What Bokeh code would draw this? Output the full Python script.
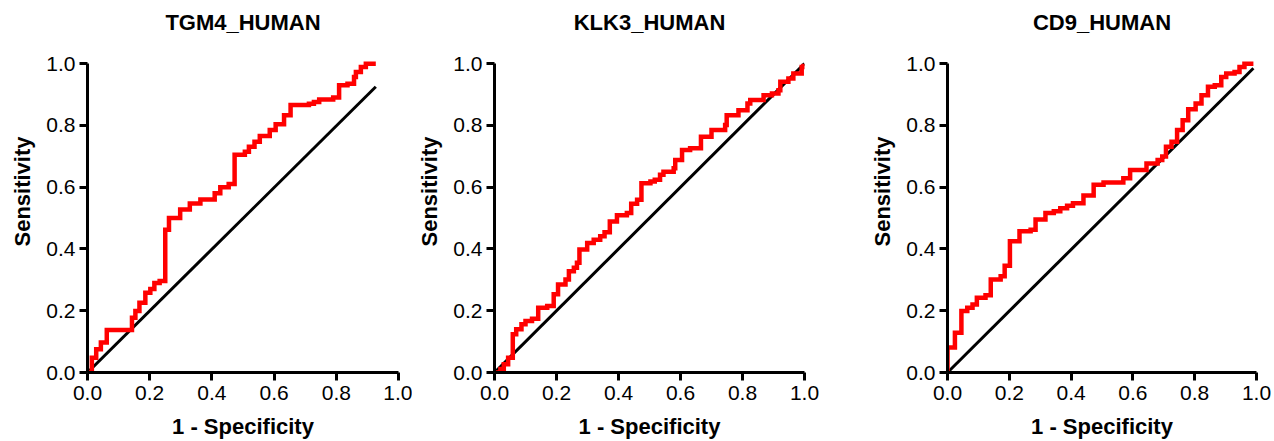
from bokeh.plotting import figure
from bokeh.layouts import row
from bokeh.models import Range1d, FixedTicker, PrintfTickFormatter
from bokeh.core.properties import value
from bokeh.embed import file_html
from bokeh.resources import INLINE

# ---- data ----
titles = ["TGM4_HUMAN", "KLK3_HUMAN", "CD9_HUMAN"]
x_label = "1 - Specificity"
y_label = "Sensitivity"
tick_values = [0.0, 0.2, 0.4, 0.6, 0.8, 1.0]

tgm4_fpr = [0.0, 0.014, 0.028, 0.043, 0.062, 0.143, 0.154, 0.167, 0.186, 0.202, 0.215, 0.232,
            0.250, 0.262, 0.298, 0.329, 0.363, 0.409, 0.427, 0.454, 0.473, 0.506, 0.519, 0.537,
            0.554, 0.586, 0.605, 0.632, 0.653, 0.712, 0.728, 0.745, 0.790, 0.809, 0.836, 0.857,
            0.863, 0.879, 0.895, 0.927]
tgm4_tpr = [0.0, 0.048, 0.075, 0.097, 0.138, 0.177, 0.199, 0.226, 0.258, 0.270, 0.290, 0.296,
            0.462, 0.500, 0.528, 0.547, 0.560, 0.580, 0.600, 0.610, 0.705, 0.715, 0.731, 0.747,
            0.766, 0.785, 0.804, 0.833, 0.866, 0.870, 0.876, 0.884, 0.890, 0.930, 0.935, 0.957,
            0.973, 0.989, 1.000, 1.000]

klk3_fpr = [0.0, 0.019, 0.030, 0.044, 0.059, 0.070, 0.087, 0.100, 0.121, 0.141, 0.170, 0.191,
            0.205, 0.229, 0.240, 0.256, 0.266, 0.274, 0.299, 0.320, 0.341, 0.355, 0.372, 0.395,
            0.427, 0.441, 0.460, 0.474, 0.503, 0.517, 0.534, 0.545, 0.578, 0.583, 0.605, 0.631,
            0.666, 0.700, 0.744, 0.749, 0.787, 0.816, 0.825, 0.868, 0.895, 0.916, 0.922, 0.948,
            0.964, 0.991, 0.997]
klk3_tpr = [0.0, 0.011, 0.027, 0.048, 0.124, 0.140, 0.156, 0.167, 0.174, 0.210, 0.215, 0.253,
            0.285, 0.301, 0.328, 0.339, 0.355, 0.398, 0.419, 0.430, 0.441, 0.454, 0.489, 0.509,
            0.516, 0.546, 0.559, 0.613, 0.618, 0.624, 0.640, 0.650, 0.661, 0.688, 0.720, 0.726,
            0.763, 0.785, 0.801, 0.833, 0.849, 0.871, 0.882, 0.898, 0.903, 0.914, 0.941, 0.952,
            0.968, 0.989, 1.000]

cd9_fpr = [0.0, 0.0, 0.024, 0.045, 0.064, 0.081, 0.095, 0.123, 0.140, 0.172, 0.185, 0.202,
           0.233, 0.269, 0.285, 0.317, 0.344, 0.365, 0.387, 0.406, 0.440, 0.473, 0.505, 0.569,
           0.591, 0.644, 0.680, 0.695, 0.707, 0.725, 0.743, 0.761, 0.779, 0.803, 0.822, 0.843,
           0.865, 0.886, 0.902, 0.929, 0.945, 0.961, 0.990]
cd9_tpr = [0.0, 0.081, 0.129, 0.199, 0.210, 0.220, 0.242, 0.250, 0.301, 0.312, 0.346, 0.425,
           0.457, 0.462, 0.495, 0.516, 0.522, 0.532, 0.540, 0.548, 0.573, 0.608, 0.615, 0.629,
           0.656, 0.677, 0.688, 0.699, 0.731, 0.747, 0.785, 0.817, 0.852, 0.871, 0.898, 0.925,
           0.930, 0.957, 0.968, 0.973, 0.989, 1.000, 1.000]

# chance (reference) line end points per panel
diag_x = [[0.0, 0.927], [0.0, 1.0], [0.0, 0.99]]
diag_y = [[0.0, 0.925], [0.0, 1.0], [0.0, 0.985]]

curves = [(tgm4_fpr, tgm4_tpr), (klk3_fpr, klk3_tpr), (cd9_fpr, cd9_tpr)]

FONT = "Liberation Sans"
# (fig width, left border, right border)
geom = [(412, 87, 14), (452, 82, 60), (410, 83, 18)]
Y_TOP = 1.172      # frame extends above 1.0 to hold the panel title
TITLE_Y = 1.133    # title baseline position


def make_panel(i):
    w, bl, br = geom[i]
    p = figure(width=w, height=441, output_backend="svg", toolbar_location=None,
               x_range=Range1d(0, 1), y_range=Range1d(0, Y_TOP),
               min_border_left=bl, min_border_right=br,
               min_border_top=10, min_border_bottom=68)
    p.outline_line_color = None
    p.xgrid.visible = False
    p.ygrid.visible = False
    p.background_fill_color = "white"
    p.border_fill_color = "white"

    p.text(x=[0.5], y=[TITLE_Y], text=[titles[i]], text_align="center",
           text_baseline="alphabetic", text_font=value(FONT), text_font_size="22px",
           text_font_style="bold", text_color="black")

    p.line(diag_x[i], diag_y[i], line_color="black", line_width=3)
    fx, fy = curves[i]
    p.step(fx, fy, mode="after", line_color="#FF0000", line_width=4.5, line_join="miter")

    for ax in (p.xaxis[0], p.yaxis[0]):
        ax.ticker = FixedTicker(ticks=tick_values)
        ax.formatter = PrintfTickFormatter(format="%.1f")
        ax.bounds = (0, 1)
        ax.axis_line_width = 3
        ax.axis_line_color = "black"
        ax.major_tick_line_width = 3
        ax.major_tick_line_color = "black"
        ax.major_tick_out = 8
        ax.major_tick_in = 0
        ax.minor_tick_line_color = None
        ax.major_label_text_font = FONT
        ax.major_label_text_font_size = "21px"
        ax.major_label_text_color = "black"
        ax.axis_label_text_font = FONT
        ax.axis_label_text_font_size = "22px"
        ax.axis_label_text_font_style = "bold"
        ax.axis_label_text_color = "black"
    p.xaxis.axis_label = x_label
    p.yaxis.axis_label = y_label
    p.xaxis.major_label_standoff = 5
    p.yaxis.major_label_standoff = 4
    p.xaxis.axis_label_standoff = 11
    p.yaxis.axis_label_standoff = 8
    return p


layout = row(*[make_panel(i) for i in range(3)])
open("out.html", "w").write(file_html(layout, INLINE))
